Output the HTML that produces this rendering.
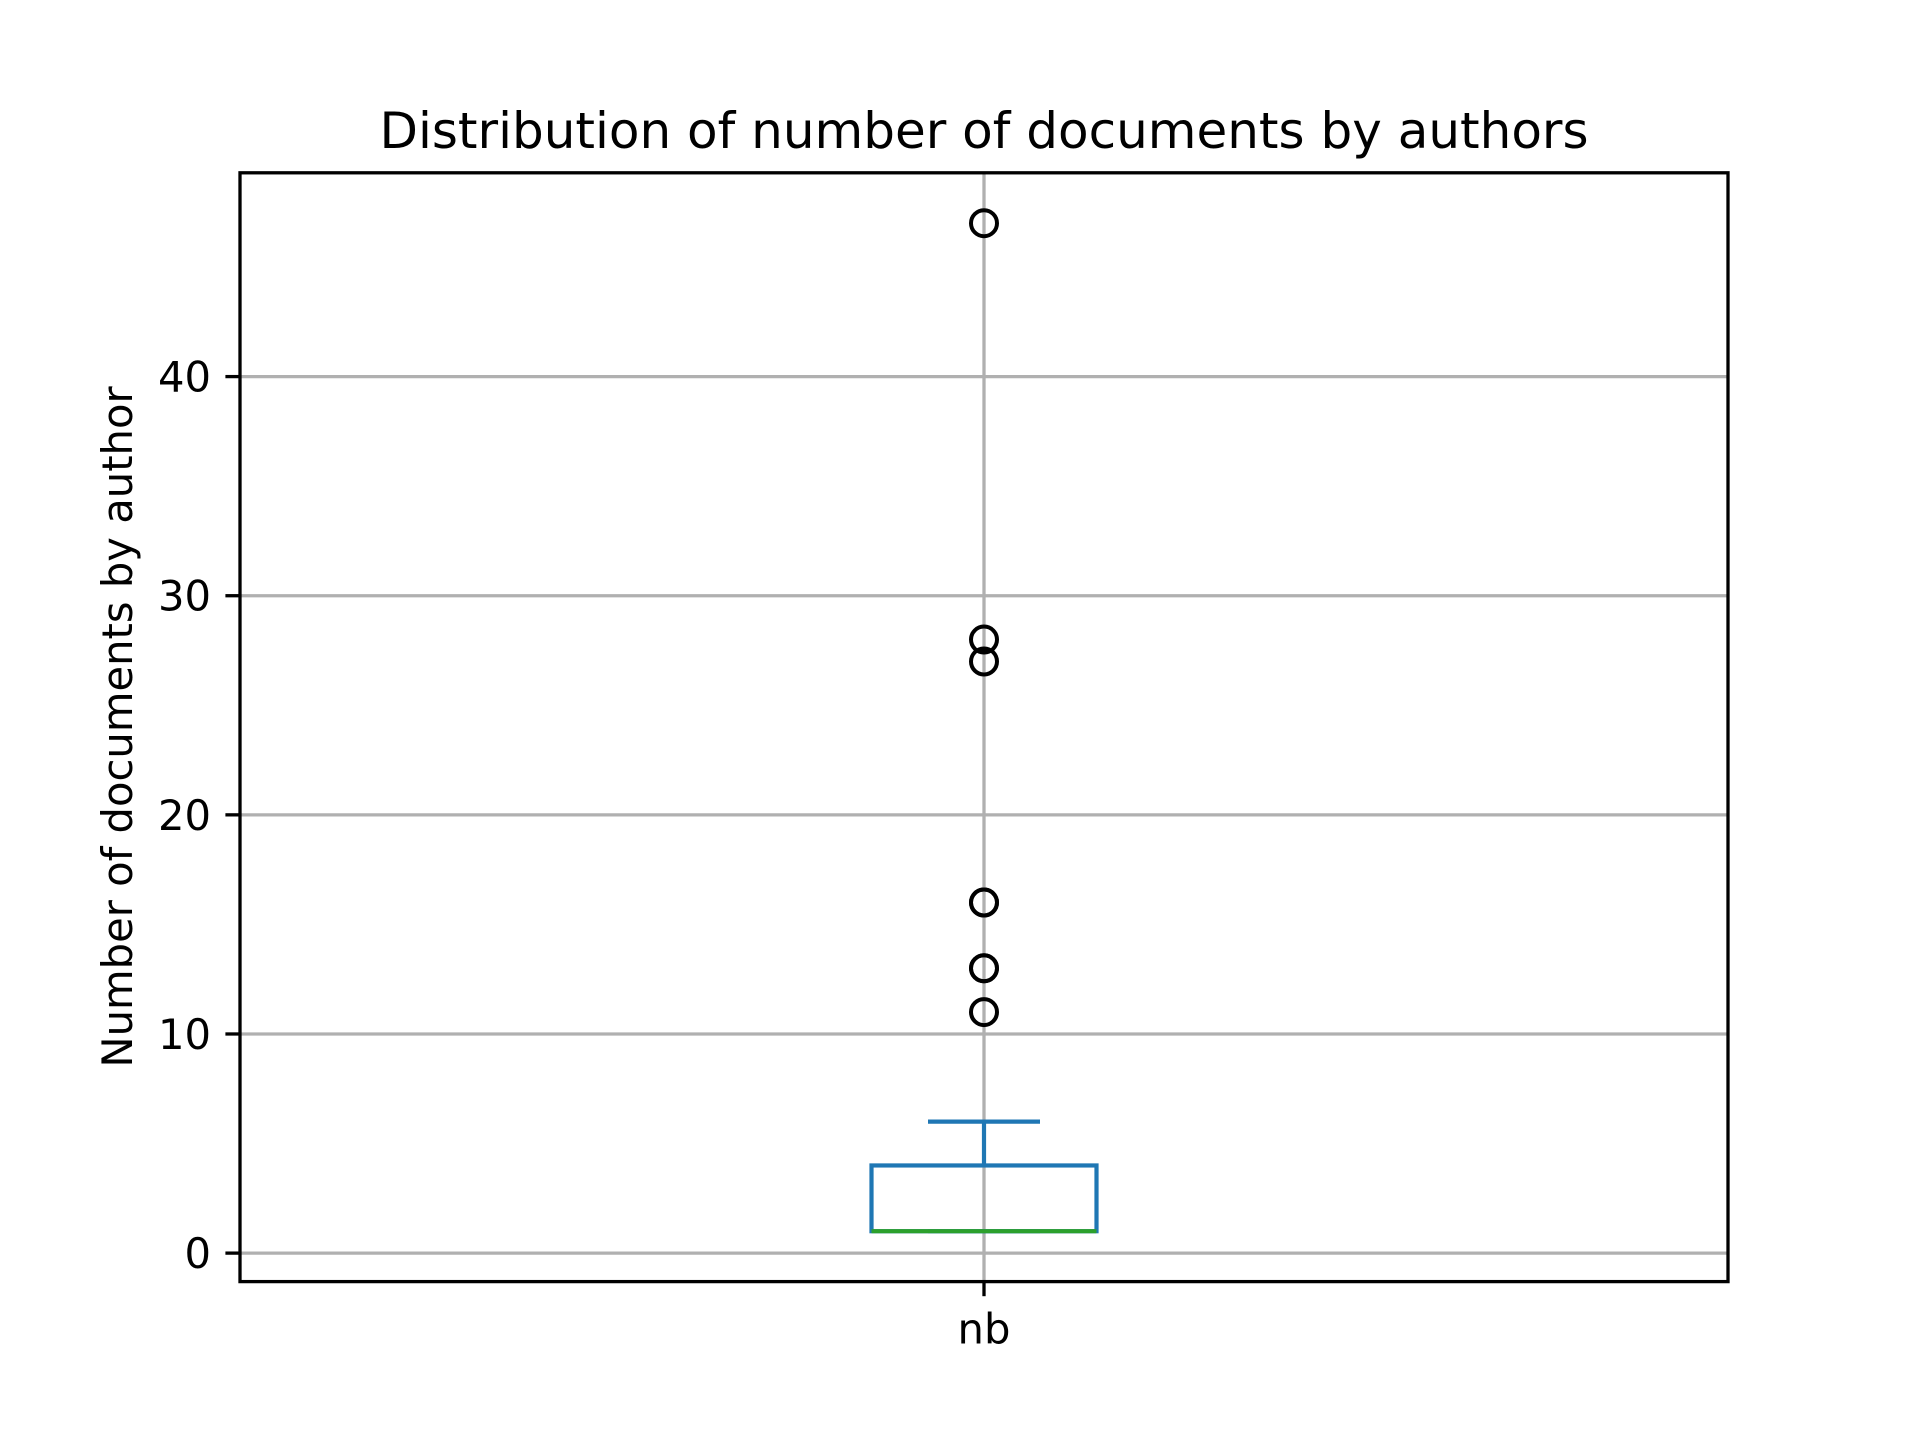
<!DOCTYPE html>
<html><head><meta charset="utf-8"><style>
html,body{margin:0;padding:0;background:#fff;}
svg{display:block;font-family:"DejaVu Sans","Liberation Sans",sans-serif;}
</style></head><body>
<svg id="chart" width="1920" height="1440" viewBox="0 0 1920 1440">
<text x="984" y="148" font-size="50" text-anchor="middle">Distribution of number of documents by authors</text>
<text transform="translate(132,727) rotate(-90)" font-size="41.7" text-anchor="middle">Number of documents by author</text>
<g id="grid"></g>
<g id="marks"></g>
<rect x="240" y="172.8" width="1488" height="1108.8" fill="none" stroke="#000" stroke-width="3.3"/>
<g id="ticks"></g>
</svg>
<script>
const categories = ["nb"];
const q1 = [1];
const median = [1];
const q3 = [4];
const whiskerLow = [1];
const whiskerHigh = [6];
const outliers = [[47, 28, 27, 16, 16, 13, 13, 11]];
const yTicks = [0, 10, 20, 30, 40];
const yTickLabels = ["0", "10", "20", "30", "40"];

const NS = "http://www.w3.org/2000/svg";
const L = 240, R = 1728, T = 172.8, B = 1281.6;
const yMin = -1.3, yMax = 49.3;
function y(v){ return B - (v - yMin) / (yMax - yMin) * (B - T); }
function x(i){ return L + (i + 0.5) * (R - L) / categories.length; }
function mk(tag, attrs, parent){
  const e = document.createElementNS(NS, tag);
  for (const k in attrs) e.setAttribute(k, attrs[k]);
  parent.appendChild(e); return e;
}
const grid = document.getElementById('grid');
const marks = document.getElementById('marks');
const ticks = document.getElementById('ticks');

yTicks.forEach((v, i) => {
  const g = mk('line', {x1: L, x2: R, y1: y(v), y2: y(v), stroke: '#b0b0b0', 'stroke-width': 3.3}, grid);
  
  
  const t = mk('line', {x1: L - 14.6, x2: L, y1: y(v), y2: y(v), stroke: '#000', 'stroke-width': 3.3}, ticks);
  
  
  const lb = mk('text', {x: L - 29, y: y(v) + 15, 'font-size': 41.7, 'text-anchor': 'end'}, ticks);
  lb.textContent = yTickLabels[i];
  
  
});

categories.forEach((c, i) => {
  const cx = x(i);
  const vg = mk('line', {x1: cx, x2: cx, y1: T, y2: B, stroke: '#b0b0b0', 'stroke-width': 3.3}, grid);
  
  
  const t = mk('line', {x1: cx, x2: cx, y1: B, y2: B + 14.6, stroke: '#000', 'stroke-width': 3.3}, ticks);
  
  
  const lb = mk('text', {x: cx, y: B + 62, 'font-size': 41.7, 'text-anchor': 'middle'}, ticks);
  lb.textContent = c;
  
  

  const hw = 112.5, cw = 56, blue = '#1f77b4';
  const box = mk('rect', {x: cx - hw, y: y(q3[i]), width: 2 * hw, height: y(q1[i]) - y(q3[i]), fill: 'none', stroke: blue, 'stroke-width': 4.2}, marks);
  
  
  const wh = mk('line', {x1: cx, x2: cx, y1: y(q3[i]), y2: y(whiskerHigh[i]), stroke: blue, 'stroke-width': 4.2}, marks);
  
  
  const cap = mk('line', {x1: cx - cw, x2: cx + cw, y1: y(whiskerHigh[i]), y2: y(whiskerHigh[i]), stroke: blue, 'stroke-width': 4.2}, marks);
  
  
  const wl = mk('line', {x1: cx, x2: cx, y1: y(q1[i]), y2: y(whiskerLow[i]), stroke: blue, 'stroke-width': 4.2}, marks);
  
  
  const capL = mk('line', {x1: cx - cw, x2: cx + cw, y1: y(whiskerLow[i]), y2: y(whiskerLow[i]), stroke: blue, 'stroke-width': 4.2}, marks);
  
  
  const med = mk('line', {x1: cx - hw, x2: cx + hw, y1: y(median[i]), y2: y(median[i]), stroke: '#2ca02c', 'stroke-width': 4.2}, marks);
  
  
  outliers[i].forEach(v => {
    const o = mk('circle', {cx: cx, cy: y(v), r: 13, fill: 'none', stroke: '#000', 'stroke-width': 4}, marks);
    
    
  });
});
</script>
</body></html>
